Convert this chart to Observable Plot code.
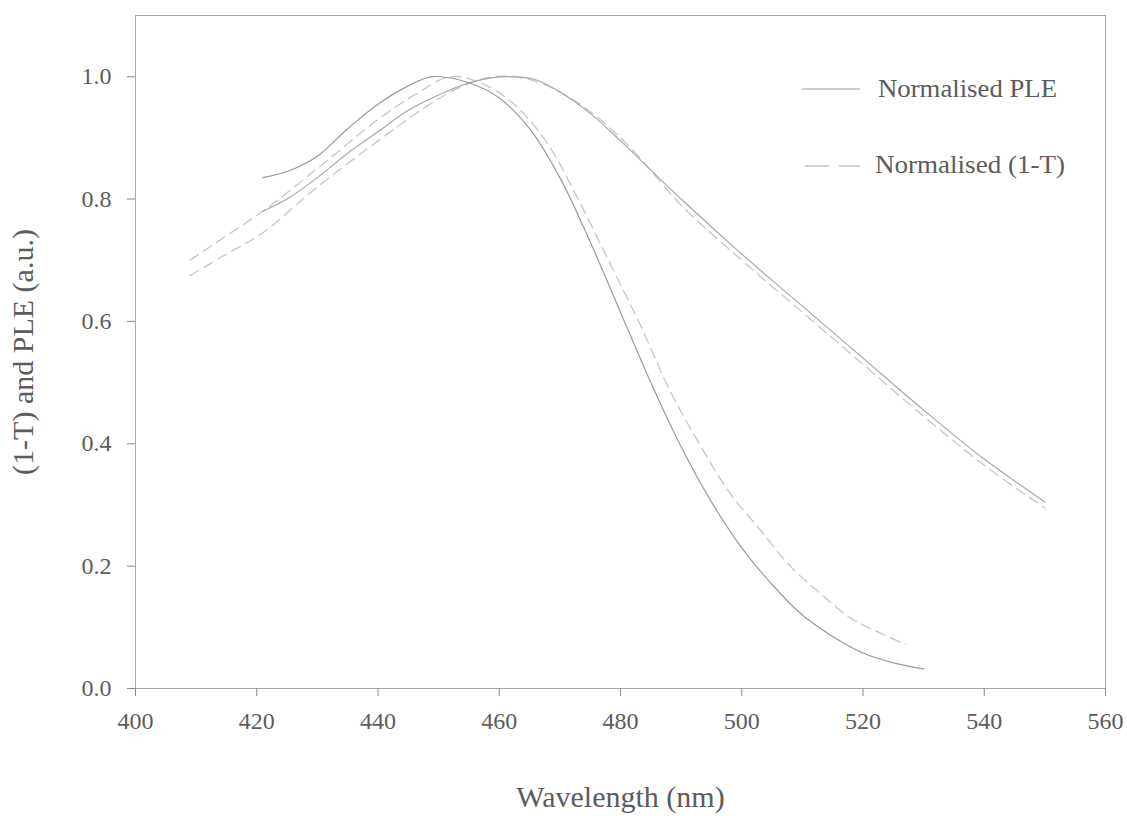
<!DOCTYPE html>
<html>
<head>
<meta charset="utf-8">
<script src="https://cdn.jsdelivr.net/npm/d3@7"></script>
<script src="https://cdn.jsdelivr.net/npm/@observablehq/plot@0.6"></script>
<style>
  html, body { margin: 0; padding: 0; background: #fff; }
  #wrap { position: relative; width: 1127px; height: 823px; font-family: "Liberation Serif", "Times New Roman", serif; }
  #legend { position: absolute; left: 0; top: 0; pointer-events: none; }
</style>
</head>
<body>
<div id="wrap"></div>
<script>
// Wavelength ticks and y ticks
const xTicks = [400, 420, 440, 460, 480, 500, 520, 540, 560];
const yTicks = [0, 0.2, 0.4, 0.6, 0.8, 1.0];
const legendLabels = ["Normalised PLE", "Normalised (1-T)"];

// Sample 1: Normalised PLE (solid)
const ple1Wl = [421, 425, 430, 435, 440, 445, 449, 455, 460, 465, 470, 475, 480, 485, 490, 495, 500, 505, 510, 515, 520, 525, 530];
const ple1Val = [0.835, 0.845, 0.87, 0.915, 0.955, 0.985, 1.0, 0.99, 0.965, 0.915, 0.835, 0.73, 0.615, 0.5, 0.395, 0.305, 0.23, 0.17, 0.12, 0.085, 0.058, 0.042, 0.032];

// Sample 1: Normalised (1-T) (dashed)
const abs1Wl = [409, 415, 421, 430, 440, 446, 452, 458, 463, 468, 473, 478, 483, 488, 493, 498, 503, 508, 513, 518, 523, 527];
const abs1Val = [0.70, 0.74, 0.78, 0.85, 0.93, 0.97, 1.0, 0.985, 0.95, 0.89, 0.80, 0.70, 0.60, 0.49, 0.40, 0.32, 0.26, 0.20, 0.155, 0.115, 0.09, 0.072];

// Sample 2: Normalised PLE (solid)
const ple2Wl = [421, 425, 430, 435, 440, 445, 450, 455, 461, 466, 470, 475, 480, 490, 500, 510, 520, 530, 540, 550];
const ple2Val = [0.78, 0.80, 0.835, 0.875, 0.91, 0.945, 0.97, 0.99, 1.0, 0.995, 0.975, 0.94, 0.895, 0.80, 0.71, 0.625, 0.54, 0.455, 0.375, 0.305];

// Sample 2: Normalised (1-T) (dashed)
const abs2Wl = [409, 415, 421, 430, 440, 447, 453, 459, 465, 470, 476, 482, 490, 500, 510, 520, 530, 540, 550];
const abs2Val = [0.675, 0.71, 0.745, 0.82, 0.895, 0.945, 0.98, 1.0, 0.995, 0.975, 0.935, 0.88, 0.79, 0.70, 0.615, 0.53, 0.445, 0.365, 0.295];

const toRows = (wl, val) => wl.map((w, i) => ({wl: w, v: val[i]}));

const solidColor = "#9a9a9a";
const solidColor2 = "#a8a8a8";
const dashColor = "#c6c6c6";
const textColor = "#5c5c5c";

const chart = Plot.plot({
  width: 1127,
  height: 823,
  marginLeft: 135,
  marginRight: 22,
  marginTop: 15,
  marginBottom: 135,
  style: {fontFamily: "'Liberation Serif', 'Times New Roman', serif", fontSize: "24px", color: textColor, background: "#fff"},
  x: {domain: [400, 560]},
  y: {domain: [0, 1.1]},
  marks: [
    Plot.frame({stroke: "#a8a8a8", strokeWidth: 1}),
    Plot.axisX({ticks: xTicks, tickSize: 8, tickPadding: 15, tickFormat: d3.format("d"), stroke: "#8a8a8a",
      label: "Wavelength (nm)", labelAnchor: "center", labelOffset: 118, labelArrow: "none", fontSize: 24}),
    Plot.axisY({ticks: yTicks, tickSize: 8, tickPadding: 16, tickFormat: d3.format(".1f"), stroke: "#8a8a8a",
      label: "(1-T) and PLE (a.u.)", labelAnchor: "center", labelOffset: 124, labelArrow: "none", fontSize: 24}),
    Plot.line(toRows(abs1Wl, abs1Val), {x: "wl", y: "v", stroke: dashColor, strokeWidth: 1.3, strokeDasharray: "10,6", curve: "catmull-rom"}),
    Plot.line(toRows(abs2Wl, abs2Val), {x: "wl", y: "v", stroke: dashColor, strokeWidth: 1.3, strokeDasharray: "10,6", curve: "catmull-rom"}),
    Plot.line(toRows(ple2Wl, ple2Val), {x: "wl", y: "v", stroke: solidColor2, strokeWidth: 1.2, curve: "catmull-rom"}),
    Plot.line(toRows(ple1Wl, ple1Val), {x: "wl", y: "v", stroke: solidColor, strokeWidth: 1.2, curve: "catmull-rom"})
  ]
});

// Axis titles are larger than tick labels in the reference
chart.querySelectorAll("g[aria-label='x-axis label'] text, g[aria-label='y-axis label'] text").forEach(t => {
  t.style.fontSize = "30px";
});

const wrap = document.getElementById("wrap");
wrap.appendChild(chart);

// Legend overlay
const ns = "http://www.w3.org/2000/svg";
const lg = document.createElementNS(ns, "svg");
lg.setAttribute("id", "legend");
lg.setAttribute("width", 1127);
lg.setAttribute("height", 823);
lg.innerHTML = `
  <line x1="802" y1="89" x2="860" y2="89" stroke="${solidColor}" stroke-width="1.2"/>
  <text x="878" y="97" font-family="'Liberation Serif','Times New Roman',serif" font-size="25" fill="${textColor}"
        textLength="179" lengthAdjust="spacingAndGlyphs">${legendLabels[0]}</text>
  <line x1="805" y1="166" x2="860" y2="166" stroke="${dashColor}" stroke-width="1.3" stroke-dasharray="24,10"/>
  <text x="875" y="173" font-family="'Liberation Serif','Times New Roman',serif" font-size="25" fill="${textColor}"
        textLength="190" lengthAdjust="spacingAndGlyphs">${legendLabels[1]}</text>`;
wrap.appendChild(lg);
</script>
</body>
</html>
